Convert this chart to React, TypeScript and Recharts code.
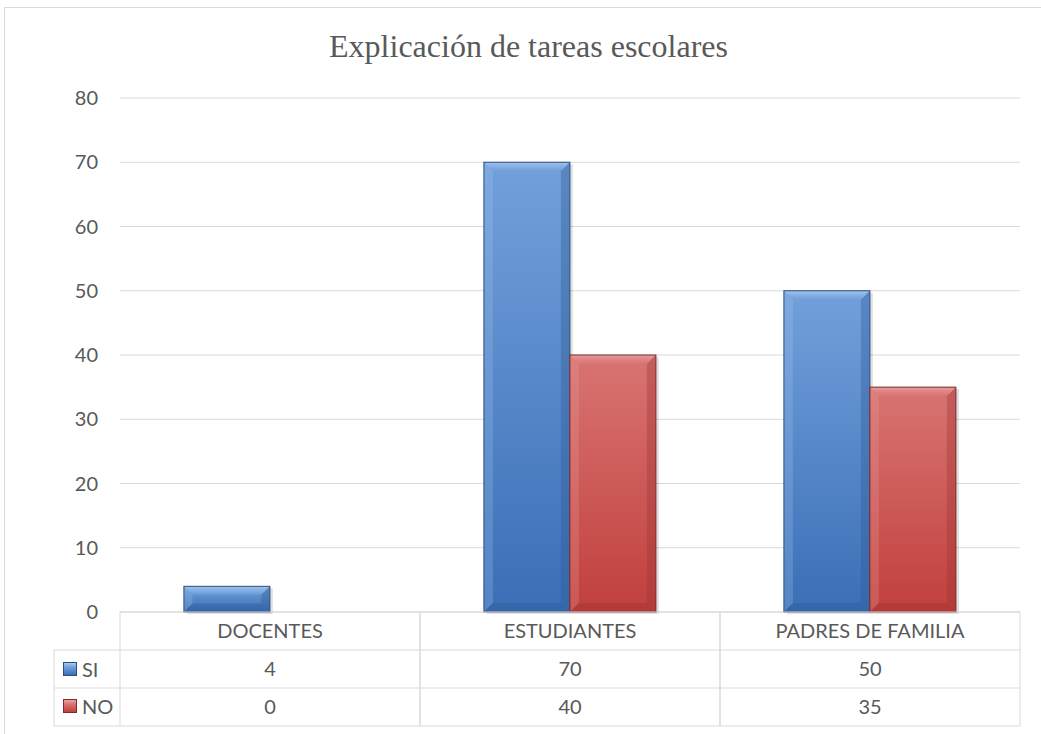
import React from 'react';
import { BarChart, Bar, XAxis, YAxis, CartesianGrid } from 'recharts';

const categories = ['DOCENTES', 'ESTUDIANTES', 'PADRES DE FAMILIA'];
const siValues = [4, 70, 50];
const noValues = [0, 40, 35];
const yTicks = [0, 10, 20, 30, 40, 50, 60, 70, 80];

const seriesNames = ['SI', 'NO'];

const data = categories.map((name, i) => ({ name, SI: siValues[i], NO: noValues[i] }));

const FONT = 'Lato, "Open Sans", sans-serif';
const TEXT = '#595959';
const LINE = '#d9d9d9';

const palette: Record<string, { top: string; bottom: string; edge: string; light: string; dark: string }> = {
  SI: { top: '#72a0db', bottom: '#3a6fb6', edge: '#2b4f80', light: '#a9c8ef', dark: '#2f5a96' },
  NO: { top: '#d87472', bottom: '#c1403d', edge: '#7f2b29', light: '#eaa3a1', dark: '#9a3331' },
};

const makeShape = (key: string) => (props: any) => {
  const { x, y, width, height } = props;
  if (!height || height <= 0) return null;
  const c = palette[key];
  const b = Math.min(9, height / 3, width / 4);
  return (
    <g>
      <rect x={x + 3} y={y + 2} width={width} height={height} fill="#000" opacity={0.12} />
      <rect x={x} y={y} width={width} height={height} fill={`url(#grad-${key})`} />
      <polygon
        points={`${x},${y} ${x + width},${y} ${x + width - b},${y + b} ${x + b},${y + b}`}
        fill={`url(#bevel-${key})`}
      />
      <polygon
        points={`${x},${y} ${x + b},${y + b} ${x + b},${y + height - b} ${x},${y + height}`}
        fill={c.light}
        opacity={0.25}
      />
      <polygon
        points={`${x + width},${y} ${x + width - b},${y + b} ${x + width - b},${y + height - b} ${x + width},${y + height}`}
        fill={c.dark}
        opacity={0.35}
      />
      <polygon
        points={`${x},${y + height} ${x + b},${y + height - b} ${x + width - b},${y + height - b} ${x + width},${y + height}`}
        fill={c.dark}
        opacity={0.4}
      />
      <rect x={x} y={y} width={width} height={height} fill="none" stroke={c.edge} strokeWidth={1} />
    </g>
  );
};

const TableTick = (props: any) => {
  const { x, y, payload } = props;
  const i = payload.index;
  const half = 150;
  return (
    <g>
      <line x1={x - half} y1={y} x2={x - half} y2={y + 114} stroke={LINE} />
      <line x1={x + half} y1={y} x2={x + half} y2={y + 114} stroke={LINE} />
      <line x1={x - half} y1={y + 38} x2={x + half} y2={y + 38} stroke={LINE} />
      <line x1={x - half} y1={y + 76} x2={x + half} y2={y + 76} stroke={LINE} />
      <line x1={x - half} y1={y + 114} x2={x + half} y2={y + 114} stroke={LINE} />
      <text x={x} y={y + 26} textAnchor="middle" fill={TEXT} fontSize={20} fontFamily={FONT}>
        {payload.value}
      </text>
      <text x={x} y={y + 64} textAnchor="middle" fill={TEXT} fontSize={20} fontFamily={FONT}>
        {siValues[i]}
      </text>
      <text x={x} y={y + 102} textAnchor="middle" fill={TEXT} fontSize={20} fontFamily={FONT}>
        {noValues[i]}
      </text>
    </g>
  );
};

const LegendKey = ({ name, top }: { name: string; top: number }) => {
  const c = palette[name];
  return (
    <div style={{ position: 'absolute', left: 63, top, display: 'flex', alignItems: 'center', height: 24 }}>
      <div
        style={{
          width: 14,
          height: 14,
          background: `linear-gradient(${c.light} 0%, ${c.top} 35%, ${c.bottom} 100%)`,
          border: `1px solid ${c.edge}`,
          boxSizing: 'border-box',
        }}
      />
      <span style={{ marginLeft: 5, fontFamily: FONT, fontSize: 20, color: TEXT, lineHeight: '24px' }}>{name}</span>
    </div>
  );
};

export default function App() {
  return (
    <div style={{ position: 'absolute', left: 0, top: 0, width: 1041, height: 734, background: '#fff', overflow: 'hidden' }}>
      <div
        style={{
          position: 'absolute',
          left: 4,
          top: 7,
          width: 1100,
          height: 800,
          borderLeft: `1px solid ${LINE}`,
          borderTop: `1px solid ${LINE}`,
        }}
      />
      <div
        style={{
          position: 'absolute',
          left: 0,
          width: 1057,
          top: 28,
          textAlign: 'center',
          fontFamily: '"Liberation Serif", "Times New Roman", serif',
          fontSize: 32,
          lineHeight: '36px',
          color: TEXT,
        }}
      >
        Explicación de tareas escolares
      </div>
      <div style={{ position: 'absolute', left: 0, top: 0 }}>
        <BarChart
          width={1041}
          height={734}
          data={data}
          margin={{ top: 98, right: 21, left: 60, bottom: 8 }}
          barCategoryGap="21.3%"
          barGap={0}
        >
          <defs>
            {seriesNames.map((k) => (
              <linearGradient key={`g-${k}`} id={`grad-${k}`} x1="0" y1="0" x2="0" y2="1">
                <stop offset="0%" stopColor={palette[k].top} />
                <stop offset="100%" stopColor={palette[k].bottom} />
              </linearGradient>
            ))}
            {seriesNames.map((k) => (
              <linearGradient key={`b-${k}`} id={`bevel-${k}`} x1="0" y1="0" x2="0" y2="1">
                <stop offset="0%" stopColor={palette[k].light} stopOpacity={0.9} />
                <stop offset="100%" stopColor={palette[k].top} stopOpacity={0.6} />
              </linearGradient>
            ))}
          </defs>
          <CartesianGrid vertical={false} stroke={LINE} />
          <XAxis
            dataKey="name"
            height={114}
            axisLine={{ stroke: LINE }}
            tickLine={false}
            tickSize={0}
            tickMargin={0}
            interval={0}
            tick={<TableTick />}
          />
          <YAxis
            width={60}
            domain={[0, 80]}
            ticks={yTicks}
            axisLine={false}
            tickLine={false}
            tickMargin={16}
            tick={{ fill: TEXT, fontSize: 20, fontFamily: FONT }}
          />
          <Bar dataKey="SI" isAnimationActive={false} shape={makeShape('SI')} />
          <Bar dataKey="NO" isAnimationActive={false} shape={makeShape('NO')} />
        </BarChart>
      </div>
      <svg style={{ position: 'absolute', left: 0, top: 0 }} width={1041} height={734}>
        <line x1={54} y1={650} x2={120} y2={650} stroke={LINE} />
        <line x1={54} y1={688} x2={120} y2={688} stroke={LINE} />
        <line x1={54} y1={726} x2={120} y2={726} stroke={LINE} />
        <line x1={54} y1={650} x2={54} y2={726} stroke={LINE} />
      </svg>
      <LegendKey name="SI" top={657} />
      <LegendKey name="NO" top={694} />
    </div>
  );
}
